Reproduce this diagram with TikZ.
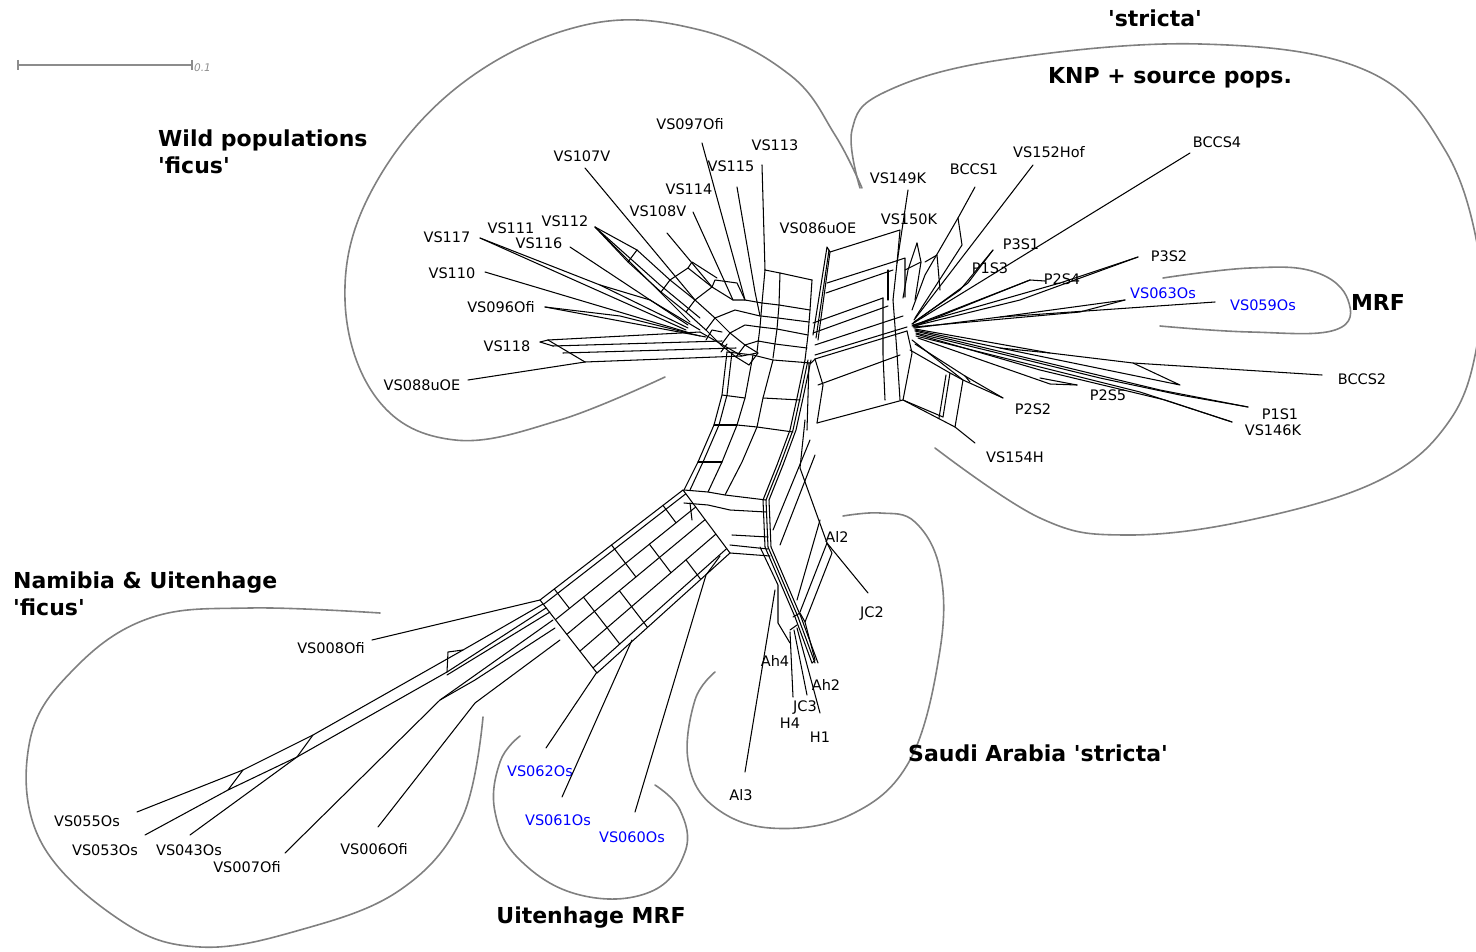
\documentclass[tikz,border=0pt]{standalone}
\usepackage{fontspec}
\setmainfont{DejaVu Sans}
\newcommand\sq{\textquotesingle}
\begin{document}
\begin{tikzpicture}[x=1pt,y=-1pt,
  net/.style={line width=1.05pt,line join=round,line cap=round},
  hull/.style={draw=black!50,line width=1.6pt,line cap=round},
  taxon/.style={font=\fontsize{14.5}{16}\selectfont,inner sep=0pt},
  mrf/.style={taxon,text=blue},
  group/.style={font=\fontsize{22}{27}\selectfont\bfseries,inner sep=0pt,align=left},
]
\useasboundingbox (0,0) rectangle (1476,952);

% ---------- scale bar ----------
\draw[black!45,line width=1.2pt] (18,65) -- (192,65);
\draw[black!45,line width=1.2pt] (18,60) -- (18,70) (192,60) -- (192,70);
\node[anchor=west,inner sep=0pt,text=black!45,font=\fontsize{10.5}{12}\selectfont\itshape] (scale) at (194,68) {0.1};

% ---------- group outlines ----------
\draw[hull] plot[smooth,tension=0.65] coordinates {(862,188) (835,135) (790,75) (700,30) (585,25) (460,85) (372,190) (345,300) (378,400) (455,440) (560,420) (665,377)};
\draw[hull] plot[smooth,tension=0.65] coordinates {(860,188) (852,130) (885,92) (1000,60) (1200,44) (1365,70) (1445,150) (1480,260) (1478,340) (1450,420) (1380,480) (1250,520) (1125,535) (1040,518) (935,448)};
\draw[hull] plot[smooth,tension=0.7] coordinates {(1163,278) (1250,268) (1315,272) (1348,300) (1335,330) (1250,332) (1160,326)};
\draw[hull] plot[smooth,tension=0.65] coordinates {(380,613) (250,608) (150,618) (75,668) (30,740) (40,840) (120,920) (200,947) (300,930) (400,890) (462,818) (483,717)};
\draw[hull] plot[smooth,tension=0.7] coordinates {(520,736) (500,762) (495,812) (520,860) (580,895) (650,892) (685,852) (680,810) (655,785)};
\draw[hull] plot[smooth,tension=0.65] coordinates {(715,672) (695,700) (688,760) (712,805) (770,828) (850,815) (910,760) (940,650) (940,570) (915,522) (880,513) (843,516)};

% ---------- group names ----------
\node[group] (gstr) at (1155,18) {\sq stricta\sq};
\node[group] (gknp) at (1170,78) {KNP + source pops.};
\node[group,anchor=west] (gwild) at (158,152) {Wild populations\\\sq ficus\sq};
\node[group] (gmrf) at (1378,302) {MRF};
\node[group,anchor=west] (gnam) at (13,594) {Namibia \& Uitenhage\\\sq ficus\sq};
\node[group] (gsau) at (1038,753) {Saudi Arabia \sq stricta\sq};
\node[group] (guit) at (591,918) {Uitenhage MRF};

% ---------- central trunk ----------
\draw[net] (727,352) -- (722,395) -- (714,425) -- (698,462) -- (684,490);
\draw[net] (732,352) -- (727,395) -- (719,425) -- (703,462) -- (690,490);
\draw[net] (753,355) -- (745,398) -- (737,425) -- (722,462) -- (708,492);
\draw[net] (773,360) -- (763,398) -- (757,427) -- (742,462) -- (725,495);
\foreach \d in {0,3,6}
  \draw[net,shift={(\d,0)}] (805,360) -- (797,398) -- (790,430) -- (777,465) -- (763,500) -- (765,547) -- (795,617) -- (812,663);
\draw[net] (727,352) -- (753,355) -- (773,360) -- (811,363);
\draw[net] (722,395) -- (745,398);
\draw[net] (763,398) -- (800,400);
\draw[net] (714,425) -- (737,425);
\draw[net] (737,425) -- (757,427) -- (793,432);
\draw[net] (698,462) -- (722,462);
\draw[net] (684,490) -- (708,492) -- (725,495) -- (766,500);
\draw[net] (684,503) -- (708,505) -- (730,510) -- (766,512);

% ---------- central box below VS113 ----------
\draw[net] (765,270) -- (762,303) -- (760,327) -- (757,352);
\draw[net] (780,273) -- (779,305) -- (777,329) -- (773,358);
\draw[net] (812,280) -- (810,310) -- (808,335) -- (805,360);
\draw[net] (765,270) -- (780,273) -- (812,280);
\draw[net] (762,303) -- (779,305) -- (810,310);
\draw[net] (761,316) -- (778,318) -- (809,322);
\draw[net] (760,327) -- (777,329) -- (808,335);
\draw[net] (758,341) -- (775,344) -- (807,348);

% ---------- top-left ladder ----------
\foreach \d in {0,1} \draw[net,shift={(-9*\d,12*\d)}] (637,250) -- (670,280) -- (695,300) -- (715,318) -- (730,333) -- (745,345) -- (758,353);
\foreach \p in {(637,250),(670,280),(695,300),(715,318),(730,333),(745,345),(758,353)} \draw[net] \p -- ++(-9,12);
\draw[net] (695,300) -- (712,287) -- (733,300) -- (745,300) -- (762,303);
\draw[net] (715,318) -- (735,310) -- (760,316);
\draw[net] (730,333) -- (745,325) -- (760,327);
\draw[net] (745,345) -- (758,341);
\draw[net] (712,287) -- (715,280) -- (737,283) -- (745,300);
\draw[net] (670,280) -- (688,268) -- (712,287);
\draw[net] (688,268) -- (692,262) -- (717,278);
\draw[net] (706,340) -- (712,330) -- (722,332);
\draw[net] (721,352) -- (727,344);

% ---------- VS118 / VS088uOE band ----------
\draw[net] (548,340) -- (700,332);
\draw[net] (553,346) -- (722,341);
\draw[net] (563,353) -- (736,348);
\draw[net] (585,362) -- (742,356) -- (757,353);
\draw[net] (548,340) -- (585,362);
\draw[net] (700,332) -- (742,356);

% ---------- right arm ----------
\draw[net] (813,335) -- (827,247) -- (830,252) -- (818,340);
\draw[net] (816,338) -- (829,250);
\draw[net] (830,252) -- (900,230) -- (897,263);
\draw[net] (827,283) -- (893,262);
\draw[net] (826,293) -- (893,270);
\draw[net] (813,323) -- (883,298);
\draw[net] (813,333) -- (888,306);
\draw[net] (815,345) -- (903,316);
\draw[net] (815,355) -- (907,327);
\draw[net] (815,359) -- (907,331);
\draw[net] (818,385) -- (900,355);
\draw[net] (817,423) -- (903,400) -- (943,417);
\draw[net] (811,363) -- (815,359);
\draw[net] (815,359) -- (823,385) -- (817,423);
\draw[net] (809,363) -- (807,430);
\draw[net] (883,298) -- (883,355) -- (885,400);
\draw[net] (893,300) -- (897,353) -- (900,400);
\draw[net] (907,331) -- (912,353) -- (903,400);
\draw[net] (888,270) -- (888,300);
\draw[net] (893,262) -- (905,258) -- (905,297);
\draw[net] (917,243) -- (908,270) -- (903,298);
\draw[net] (917,243) -- (921,262) -- (915,300);
\draw[net] (905,270) -- (921,262);

% ---------- right side split boxes ----------
\draw[net] (958,218) -- (962,245) -- (915,318);
\draw[net] (958,218) -- (925,275) -- (912,310);
\draw[net] (925,262) -- (937,255) -- (940,290);
\draw[net] (912,340) -- (963,380);
\draw[net] (915,344) -- (965,376);
\draw[net] (910,350) -- (950,373) -- (943,417);
\draw[net] (950,373) -- (963,380) -- (955,427);
\draw[net] (946,375) -- (939,418);
\draw[net] (903,400) -- (955,427);
\draw[net] (965,376) -- (970,382);

% ---------- top-left leaves ----------
\node[taxon] (t097) at (690,124) {VS097Ofi};
\node[taxon] (t113) at (775,145) {VS113};
\node[taxon] (t107) at (582,156) {VS107V};
\node[taxon] (t115) at (731,166) {VS115};
\node[taxon] (t114) at (689,189) {VS114};
\node[taxon] (t108) at (658,211) {VS108V};
\node[taxon] (t086) at (818,228) {VS086uOE};
\node[taxon] (t117) at (447,237) {VS117};
\node[taxon] (t111) at (511,228) {VS111};
\node[taxon] (t112) at (565,221) {VS112};
\node[taxon] (t116) at (539,243) {VS116};
\node[taxon] (t110) at (452,273) {VS110};
\node[taxon] (t096) at (501,307) {VS096Ofi};
\node[taxon] (t118) at (507,346) {VS118};
\node[taxon] (t088) at (422,385) {VS088uOE};

\coordinate (e097) at (702,143);
\coordinate (e113) at (762,165);
\coordinate (e107) at (585,168);
\coordinate (e115) at (737,187);
\coordinate (e114) at (693,212);
\coordinate (e108) at (667,233);
\coordinate (e117) at (480,238);
\coordinate (e112) at (595,227);
\coordinate (e116) at (570,247);
\coordinate (e110) at (485,272);
\coordinate (e096) at (545,307);
\coordinate (e118) at (540,342);
\coordinate (e088) at (468,380);

\draw[net] (e097) -- (745,300);
\draw[net] (e113) -- (765,270);
\draw[net] (e107) -- (695,300);
\draw[net] (e115) -- (755,292) -- (760,316);
\draw[net] (e114) -- (733,300);
\draw[net] (e108) -- (712,287);
\draw[net] (e112) -- (637,250);
\draw[net] (e112) -- (628,262);
\draw[net] (e112) -- (690,322);
\draw[net] (e112) -- (660,285) -- (700,318);
\draw[net] (e116) -- (688,325);
\draw[net] (e117) -- (600,285) -- (688,328);
\draw[net] (e117) -- (686,330);
\draw[net] (600,285) -- (650,300) -- (700,330);
\draw[net] (e110) -- (690,333);
\draw[net] (e096) -- (620,316) -- (700,336);
\draw[net] (e096) -- (706,337);
\draw[net] (e118) -- (548,340);
\draw[net] (e118) -- (553,346);
\draw[net] (e088) -- (585,362);

% ---------- right leaves ----------
\node[taxon] (t149) at (898,178) {VS149K};
\node[taxon] (t150) at (909,219) {VS150K};
\node[taxon] (tb1) at (974,169) {BCCS1};
\node[taxon] (t152) at (1049,152) {VS152Hof};
\node[taxon] (tb4) at (1217,142) {BCCS4};
\node[taxon] (tp31) at (1021,244) {P3S1};
\node[taxon] (tp32) at (1169,256) {P3S2};
\node[taxon] (tp13) at (990,268) {P1S3};
\node[taxon] (tp24) at (1062,279) {P2S4};
\node[mrf] (t063) at (1163,293) {VS063Os};
\node[mrf] (t059) at (1263,305) {VS059Os};
\node[taxon] (tb2) at (1362,379) {BCCS2};
\node[taxon] (tp22) at (1033,409) {P2S2};
\node[taxon] (tp25) at (1108,395) {P2S5};
\node[taxon] (tp11) at (1280,414) {P1S1};
\node[taxon] (t146) at (1273,430) {VS146K};
\node[taxon] (t154) at (1015,457) {VS154H};

\coordinate (e149) at (908,190);
\coordinate (eb1) at (975,187);
\coordinate (e152) at (1033,165);
\coordinate (eb4) at (1190,153);
\coordinate (ep31) at (993,250);
\coordinate (ep32) at (1138,257);
\coordinate (ep24) at (1030,280);
\coordinate (e063) at (1125,300);
\coordinate (e059) at (1215,302);
\coordinate (eb2) at (1322,375);
\coordinate (ep11) at (1248,407);
\coordinate (e146) at (1232,422);
\coordinate (ep25) at (1077,385);
\coordinate (ep22) at (1003,398);
\coordinate (e154) at (975,443);

\draw[net] (e149) -- (897,263) -- (893,300);
\draw[net] (eb1) -- (958,218);
\draw[net] (e152) -- (914,320);
\draw[net] (eb4) -- (912,324);
\draw[net] (ep31) -- (968,283) -- (912,324);
\draw[net] (ep31) -- (960,290) -- (914,322);
\draw[net] (ep32) -- (1060,283) -- (913,325);
\draw[net] (ep32) -- (1020,300) -- (914,326);
\draw[net] (ep24) -- (1045,281);
\draw[net] (ep24) -- (912,326);
\draw[net] (ep24) -- (980,300) -- (913,327);
\draw[net] (e063) -- (1080,312) -- (914,327);
\draw[net] (e059) -- (1000,317) -- (914,328);
\draw[net] (e063) -- (1000,317);
\draw[net] (eb2) -- (1133,363) -- (1050,353) -- (915,329);
\draw[net] (1050,353) -- (1000,348) -- (915,330);
\draw[net] (1133,363) -- (1180,385) -- (1000,348);
\draw[net] (ep11) -- (1160,390) -- (915,331);
\draw[net] (ep11) -- (1180,395) -- (1100,378) -- (916,333);
\draw[net] (e146) -- (1165,400) -- (1040,370) -- (916,334);
\draw[net] (e146) -- (1140,392) -- (916,336);
\draw[net] (ep25) -- (1050,384) -- (918,338);
\draw[net] (ep25) -- (1040,378);
\draw[net] (ep22) -- (963,380);
\draw[net] (ep22) -- (965,376);
\draw[net] (e154) -- (955,427);

% ---------- lower-left ribbon ----------
\foreach \t in {0,0.06,0.27,0.47,0.7,0.93,1}
  \draw[net] ({683+47*\t},{490+63*\t}) -- ({540+57*\t},{600+73*\t});
\foreach \s/\a/\b in {0/0/1, 0.14/0/0.27, 0.33/0.27/0.7, 0.22/0.7/1, 0.5/0/0.47, 0.62/0.47/1, 0.8/0.27/0.93, 0.9/0/0.27, 1/0/1}
  \draw[net] ({683-143*\s+47*\a+10*\s*\a},{490+110*\s+63*\a+10*\s*\a}) -- ({683-143*\s+47*\b+10*\s*\b},{490+110*\s+63*\b+10*\s*\b});
\draw[net] (730,553) -- (770,556);
\draw[net] (730,545) -- (768,549);
\draw[net] (732,535) -- (768,537);
\draw[net] (690,503) -- (692,520);

% ---------- Saudi split boxes ----------
\draw[net] (805,420) -- (800,468) -- (827,543) -- (800,612);
\draw[net] (827,543) -- (832,553) -- (805,622);
\draw[net] (810,440) -- (773,530);
\draw[net] (815,455) -- (780,545);
\draw[net] (820,520) -- (797,600);
\draw[net] (760,547) -- (778,585) -- (778,623) -- (790,643);
\draw[net] (793,617) -- (800,613) -- (805,622) -- (815,660) -- (812,663);
\draw[net] (790,630) -- (797,625);

% ---------- Saudi leaves ----------
\node[taxon] (tal2) at (837,537) {Al2};
\node[taxon] (tjc2) at (872,614) {JC2};
\node[taxon] (tah4) at (775,661) {Ah4};
\node[taxon] (tah2) at (826,685) {Ah2};
\node[taxon] (tjc3) at (805,708) {JC3};
\node[taxon] (th4) at (790,723) {H4};
\node[taxon] (th1) at (820,737) {H1};
\node[taxon] (tal3) at (741,795) {Al3};

\coordinate (ejc2) at (868,593);
\coordinate (eh4) at (793,697);
\coordinate (ejc3) at (807,695);
\coordinate (eh1) at (820,713);
\coordinate (eal3) at (745,772);

\draw[net] (ejc2) -- (827,543);
\draw[net] (eh4) -- (790,632);
\draw[net] (ejc3) -- (794,630);
\draw[net] (eh1) -- (797,628);
\draw[net] (eal3) -- (775,590);

% ---------- Uitenhage leaves ----------
\node[mrf] (t062) at (540,771) {VS062Os};
\node[mrf] (t061) at (558,820) {VS061Os};
\node[mrf] (t060) at (632,837) {VS060Os};
\coordinate (e062) at (546,748);
\coordinate (e061) at (562,797);
\coordinate (e060) at (635,812);
\draw[net] (e062) -- (597,672);
\draw[net] (e061) -- (632,640);
\draw[net] (e060) -- (706,575) -- (720,556);

% ---------- Namibia leaves ----------
\node[taxon] (t008) at (331,648) {VS008Ofi};
\node[taxon] (t055) at (87,821) {VS055Os};
\node[taxon] (t053) at (105,850) {VS053Os};
\node[taxon] (t043) at (189,850) {VS043Os};
\node[taxon] (t007) at (247,867) {VS007Ofi};
\node[taxon] (t006) at (374,849) {VS006Ofi};

\coordinate (e008) at (372,640);
\coordinate (e055) at (137,812);
\coordinate (e053) at (145,835);
\coordinate (e043) at (190,835);
\coordinate (e007) at (285,853);
\coordinate (e006) at (378,827);

\draw[net] (e008) -- (540,600);
\draw[net] (e055) -- (243,770) -- (313,735) -- (463,650) -- (543,604);
\draw[net] (e053) -- (228,790) -- (297,757) -- (447,672) -- (546,608);
\draw[net] (228,790) -- (243,770);
\draw[net] (297,757) -- (313,735);
\draw[net] (447,672) -- (448,652) -- (463,650);
\draw[net] (447,675) -- (550,612);
\draw[net] (e043) -- (297,757);
\draw[net] (e007) -- (440,700) -- (553,620);
\draw[net] (440,700) -- (475,680) -- (555,628);
\draw[net] (e006) -- (475,703) -- (560,640);
\end{tikzpicture}
\end{document}
